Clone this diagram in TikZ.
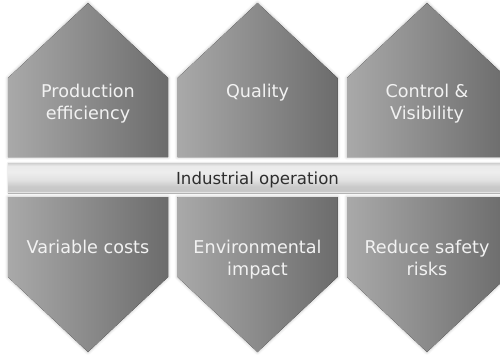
\documentclass[tikz,border=0pt]{standalone}
\usepackage{fontspec}
\setmainfont{DejaVu Sans}
\usetikzlibrary{shadows.blur}
\definecolor{shleft}{HTML}{A9A9A9}
\definecolor{shright}{HTML}{6C6C6C}
\definecolor{txtlight}{HTML}{F2F2F2}
\definecolor{txtdark}{HTML}{2E2E2E}
\pgfdeclareverticalshading{barshade}{100bp}{%
  color(0bp)=(black!30);
  color(25bp)=(black!30);
  color(26.5bp)=(black!10);
  color(28.5bp)=(black!22);
  color(36bp)=(black!21);
  color(46bp)=(black!12);
  color(60bp)=(black!7);
  color(70bp)=(black!8);
  color(73bp)=(black!14);
  color(75bp)=(black!19);
  color(100bp)=(black!19)}
\tikzset{
  pillar/.style={left color=shleft, right color=shright,
    blur shadow={shadow xshift=0pt, shadow yshift=0pt, shadow blur radius=3pt, shadow opacity=30}},
  pillartext/.style={text=txtlight, align=center, inner sep=0pt, anchor=base,
    font=\fontsize{17.6}{22}\selectfont},
  bartext/.style={text=txtdark, inner sep=0pt, anchor=base,
    font=\fontsize{16.6}{20}\selectfont}
}
\begin{document}
\begin{tikzpicture}[x=1pt,y=-1pt]
\useasboundingbox (0,0) rectangle (500,357);
\begin{scope}
\clip (0,0) rectangle (500,357);
% top and bottom pillars
\foreach \xl in {8,177.5,347}{
  \pgfmathsetmacro{\xr}{\xl+160}
  \pgfmathsetmacro{\xc}{\xl+80}
  \fill[pillar] (\xl,157) -- (\xl,78) -- (\xc,3) -- (\xr,78) -- (\xr,157) -- cycle;
  \fill[pillar] (\xl,197) -- (\xr,197) -- (\xr,277) -- (\xc,352) -- (\xl,277) -- cycle;
}
% bar
\fill[shading=barshade, blur shadow={shadow xshift=0pt, shadow yshift=0pt, shadow blur radius=1.5pt, shadow opacity=25}] (8,163) rectangle (512,193);
\end{scope}
\node[bartext] (bar) at (257.5,184) {Industrial operation};
% base anchor = baseline of the last line; first baselines at 97 and 253
\node[pillartext] (t1) at (88,119) {Production\\efficiency};
\node[pillartext] (t2) at (257.5,97) {Quality};
\node[pillartext] (t3) at (427,119) {Control \&\\Visibility};
\node[pillartext] (b1) at (88,253) {Variable costs};
\node[pillartext] (b2) at (257.5,275) {Environmental\\impact};
\node[pillartext] (b3) at (427,275) {Reduce safety\\risks};
\end{tikzpicture}
\end{document}
